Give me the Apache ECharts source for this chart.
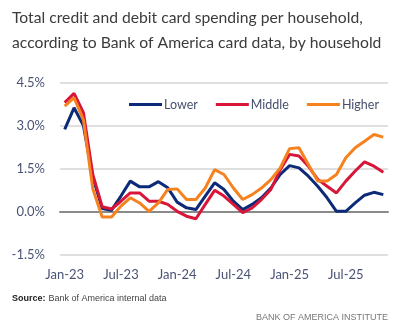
<!DOCTYPE html>
<html>
<head>
<meta charset="utf-8">
<script src="https://cdn.jsdelivr.net/npm/echarts@6/dist/echarts.min.js"></script>
<style>
html,body{margin:0;padding:0;background:#fff;}
#chart{width:400px;height:325px;}
</style>
</head>
<body>
<div id="chart"></div>
<script>
var months = ['Jan-23','Feb-23','Mar-23','Apr-23','May-23','Jun-23','Jul-23','Aug-23','Sep-23','Oct-23','Nov-23','Dec-23',
  'Jan-24','Feb-24','Mar-24','Apr-24','May-24','Jun-24','Jul-24','Aug-24','Sep-24','Oct-24','Nov-24','Dec-24',
  'Jan-25','Feb-25','Mar-25','Apr-25','May-25','Jun-25','Jul-25','Aug-25','Sep-25','Oct-25','Nov-25'];
var lower = [2.87,3.62,3.0,1.2,0.12,0.06,0.55,1.07,0.87,0.87,1.05,0.84,0.34,0.14,0.08,0.55,1.01,0.78,0.37,0.08,0.26,0.49,0.83,1.3,1.61,1.53,1.24,0.89,0.49,0.02,0.02,0.31,0.58,0.68,0.6];
var middle = [3.8,4.12,3.45,1.3,0.18,0.1,0.37,0.66,0.66,0.37,0.37,0.26,0.02,-0.15,-0.24,0.26,0.75,0.55,0.26,-0.03,0.14,0.43,0.78,1.47,2.0,1.94,1.59,1.13,0.89,0.66,1.07,1.42,1.74,1.59,1.38];
var higher = [3.68,3.97,3.2,0.8,-0.18,-0.18,0.2,0.49,0.31,0.02,0.31,0.78,0.8,0.43,0.43,0.83,1.47,1.3,0.83,0.43,0.6,0.83,1.12,1.53,2.2,2.23,1.65,1.07,1.07,1.3,1.88,2.23,2.46,2.69,2.6];
var seriesNames = ['Lower','Middle','Higher'];
var yTicks = {min:-1.5, max:4.5, interval:1.5};
var titleText = 'Total credit and debit card spending per household,\naccording to Bank of America card data, by household';
var sourceLabel = 'Source:';
var sourceText = ' Bank of America internal data';
var brandText = 'BANK OF AMERICA INSTITUTE';

var colors = ['#0c2a78','#d8163a','#f5821f'];
var axisFont = 'Lato, "Liberation Sans", sans-serif';

var chart = echarts.init(document.getElementById('chart'), null, {renderer:'canvas'});
var datas = [lower, middle, higher];
chart.setOption({
  animation:false,
  color: colors,
  title:{
    text: titleText, left: 12, top: 5, padding: 0,
    textStyle:{fontFamily:'Lato, sans-serif', fontSize:15.7, fontWeight:'normal', color:'#3b3b3b', lineHeight:25}
  },
  legend:{
    data: seriesNames, top: 93, left: 124, itemWidth: 33, itemHeight: 3, itemGap: 18,
    icon: 'rect',
    textStyle:{fontFamily:axisFont, fontSize:12.5, color:'#46506e', padding:[0,0,0,-3]}
  },
  grid:{left:60, width:328, top:82.5, height:172.5, containLabel:false},
  xAxis:{
    type:'category', data: months, boundaryGap:true,
    axisLine:{show:true, onZero:true, lineStyle:{color:'#8a8a8a', width:2}},
    axisTick:{show:false},
    axisLabel:{interval:5, margin:13, fontFamily:axisFont, fontSize:13, color:'#4a5375'},
    splitLine:{show:false}
  },
  yAxis:{
    type:'value', min:yTicks.min, max:yTicks.max, interval:yTicks.interval,
    axisLine:{show:false}, axisTick:{show:false},
    axisLabel:{margin:15, fontFamily:axisFont, fontSize:13, color:'#4a5375',
      formatter:function(v){return v.toFixed(1)+'%';}},
    splitLine:{lineStyle:{color:'#d4d4d4', width:1.5}}
  },
  series: seriesNames.map(function(n,i){
    return {name:n, type:'line', data:datas[i], symbol:'none', smooth:false,
      lineStyle:{width:3, color:colors[i]}, z: 2 + i};
  }),
  graphic:[
    {type:'text', left:12, top:294, style:{text:sourceLabel, font:'bold 9px "Liberation Sans Narrow", "Liberation Sans", sans-serif', fill:'#222'}},
    {type:'text', left:46, top:294, style:{text:sourceText, font:'9px "Liberation Sans Narrow", "Liberation Sans", sans-serif', fill:'#444'}},
    {type:'text', right:12, top:313, style:{text:brandText, font:'9px "Liberation Sans Narrow", "Liberation Sans", sans-serif', fill:'#777'}}
  ]
});
</script>
</body>
</html>
